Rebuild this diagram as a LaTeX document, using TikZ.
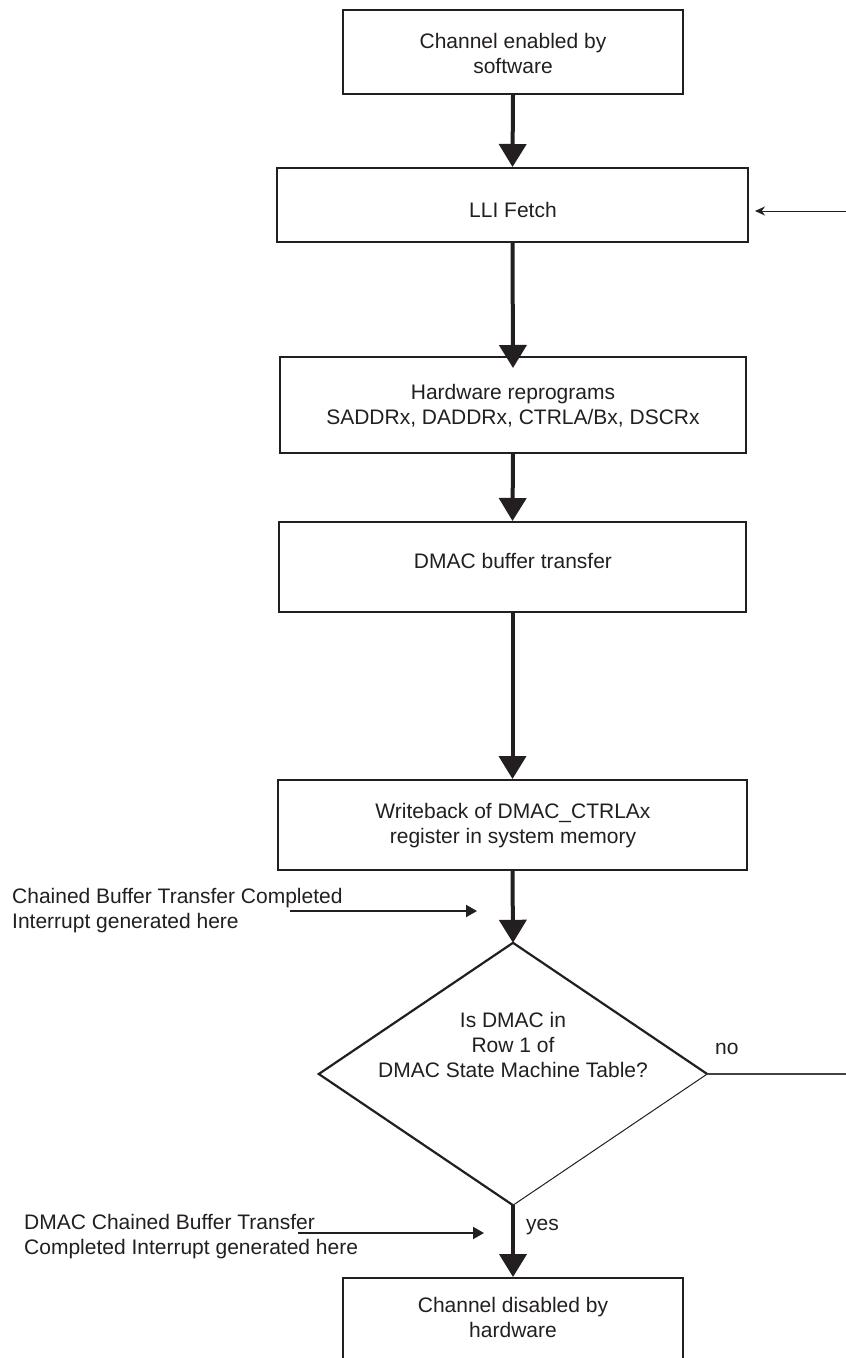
\documentclass[tikz,border=0pt]{standalone}
\usepackage{fontspec}
\setmainfont{Liberation Sans}
\usetikzlibrary{arrows.meta,shapes.geometric}
\definecolor{ink}{RGB}{35,31,32}
\begin{document}
\begin{tikzpicture}[x=1pt,y=-1pt,
  box/.style={draw=ink,line width=2pt,rectangle,inner sep=0pt},
  txt/.style={text=ink,font=\fontsize{21}{25}\selectfont,align=center,inner sep=0pt},
  ltxt/.style={text=ink,font=\fontsize{21}{25}\selectfont,align=left,inner sep=0pt},
  flow/.style={draw=ink,line width=4pt,-{Triangle[length=23pt,width=27pt]}},
  note/.style={draw=ink,line width=2pt,-{Triangle[length=11pt,width=12pt]}},
  back/.style={draw=ink,line width=1pt,-{Stealth[length=10pt,width=9pt]}}]
\clip (0,0) rectangle (846,1358);
\fill[white] (0,0) rectangle (846,1358);

% boxes
\node[box,minimum width=340pt,minimum height=84pt] (b1) at (513,52) {};
\node[txt] (t1) at (513,53) {Channel enabled by\\software};
\node[box,minimum width=471pt,minimum height=74pt] (b2) at (512.5,205) {};
\node[txt] (t2) at (513,210) {LLI Fetch};
\node[box,minimum width=466pt,minimum height=96pt] (b3) at (513,405) {};
\node[txt] (t3) at (513,406) {Hardware reprograms\\SADDRx, DADDRx, CTRLA/Bx, DSCRx};
\node[box,minimum width=467pt,minimum height=90pt] (b4) at (512.5,567) {};
\node[txt] (t4) at (513,561) {DMAC buffer transfer};
\node[box,minimum width=469pt,minimum height=90pt] (b5) at (512.5,825) {};
\node[txt] (t5) at (513,826) {Writeback of DMAC\_CTRLAx\\register in system memory};
\node[diamond,inner sep=0pt,minimum width=388pt,minimum height=262pt] (d) at (513,1074) {};
\node[txt] (td) at (513,1045) {Is DMAC in\\Row 1 of\\DMAC State Machine Table?};
\node[box,minimum width=340pt,minimum height=200pt] (b6) at (513,1378) {};
\node[txt] (t6) at (513,1317) {Channel disabled by\\hardware};

% diamond outline
\draw[ink,line width=2.2pt] (d.east) -- (d.north) -- (d.west) -- (d.south);
\draw[ink,line width=1pt] (d.south) -- (d.east);

% main flow
\draw[flow] (b1.south) -- (b2.north);
\draw[flow] (b2.south) -- ([yshift=-12pt]b3.north);
\draw[flow] (b3.south) -- (b4.north);
\draw[flow] (b4.south) -- (b5.north);
\draw[flow] (b5.south) -- (d.north);
\draw[flow] (d.south) -- (b6.north);

% branch labels
\node[txt,anchor=base west] (yes) at (526,1230) {yes};
\node[txt,anchor=base west] (no) at (715,1054) {no};
\coordinate (noend) at (846,1074);
\draw[ink!85,line width=1.5pt] (d.east) -- (noend);

% loop back into LLI fetch
\coordinate (fetchin) at (846,211);
\coordinate (fetchtip) at (755,211);
\draw[back] (fetchin) -- (fetchtip);

% annotations
\node[ltxt,anchor=west] (n1) at (12,911) {Chained Buffer Transfer Completed\\Interrupt generated here};
\coordinate (n1s) at (290,911);
\coordinate (n1e) at (477,911);
\draw[note] (n1s) -- (n1e);
\node[ltxt,anchor=west] (n2) at (24,1237) {DMAC Chained Buffer Transfer\\Completed Interrupt generated here};
\coordinate (n2s) at (298,1233);
\coordinate (n2e) at (484,1233);
\draw[note] (n2s) -- (n2e);
\end{tikzpicture}
\end{document}
